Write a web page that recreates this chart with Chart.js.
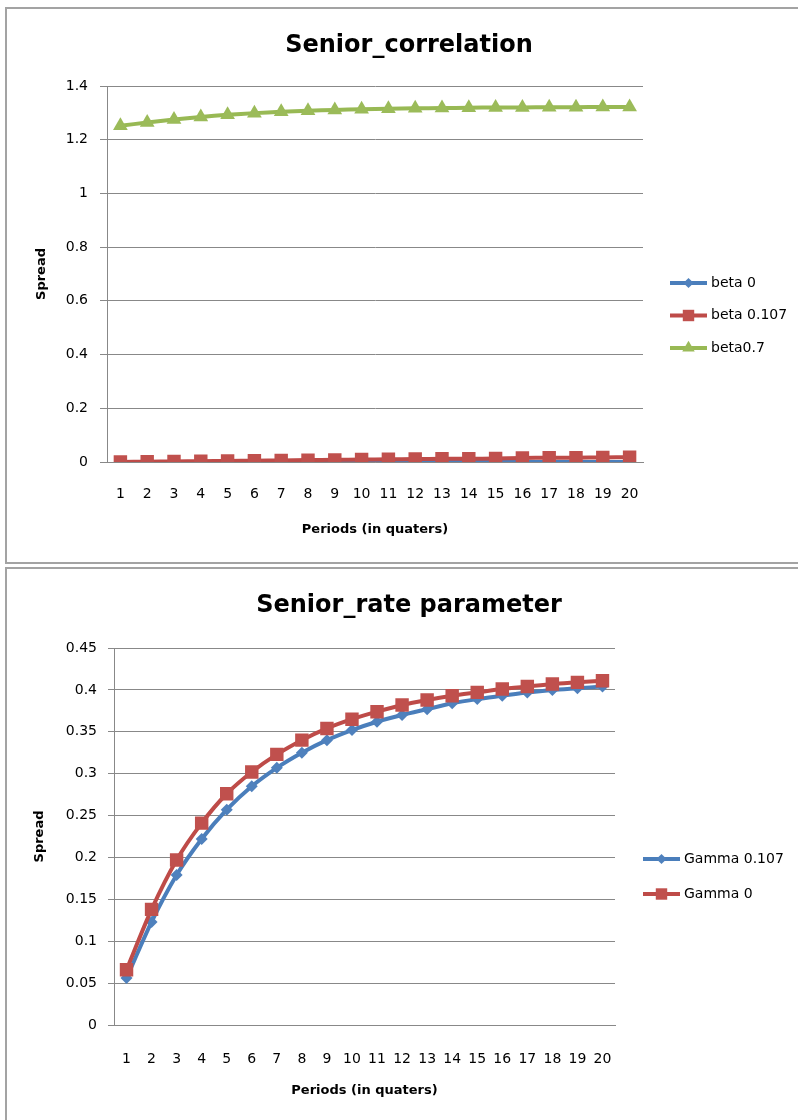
<!DOCTYPE html>
<html>
<head>
<meta charset="utf-8">
<script src="https://cdn.jsdelivr.net/npm/chart.js@4.4.1/dist/chart.umd.min.js"></script>
<style>
  html, body { margin: 0; padding: 0; background: #fff; width: 798px; height: 1120px; overflow: hidden; }
  .frame { position: absolute; border: 2px solid #a3a3a3; box-sizing: border-box; background: #fff; }
  .frame canvas { position: absolute; }
</style>
</head>
<body>
<div class="frame" style="left:5px; top:7px; width:820px; height:557px;">
  <canvas id="corr" width="791" height="552" style="left:0px; top:0px; width:791px; height:552px;"></canvas>
</div>
<div class="frame" style="left:5px; top:567px; width:820px; height:580px;">
  <canvas id="rate" width="791" height="550" style="left:0px; top:1px; width:791px; height:550px;"></canvas>
</div>
<script>
// Quarterly periods on the category axis
const periods = ['1','2','3','4','5','6','7','8','9','10','11','12','13','14','15','16','17','18','19','20'];

// Senior_correlation: spread per period for each beta
const beta0    = [0,0,0,0,0,0,0,0,0,0,0,0,0,0,0,0,0,0,0,0];
const beta0107 = [0.000,0.001,0.002,0.003,0.004,0.005,0.006,0.007,0.008,0.009,0.010,0.011,0.012,0.012,0.013,0.015,0.016,0.016,0.017,0.018];
const beta07   = [1.252,1.264,1.275,1.285,1.293,1.299,1.304,1.308,1.311,1.313,1.315,1.317,1.318,1.319,1.320,1.320,1.321,1.321,1.322,1.322];

// Senior_rate parameter: spread per period for each gamma
const gamma0107 = [0.056,0.123,0.179,0.222,0.257,0.285,0.307,0.325,0.340,0.352,0.362,0.370,0.377,0.384,0.389,0.393,0.397,0.400,0.402,0.404];
const gamma0    = [0.066,0.138,0.197,0.241,0.276,0.302,0.323,0.340,0.354,0.365,0.374,0.382,0.388,0.393,0.397,0.401,0.404,0.407,0.409,0.411];

const BLUE  = { line: '#4A7EBB', fill: '#4F81BD', style: 'rectRot',  r: 6 };
const RED   = { line: '#BE4B48', fill: '#C0504D', style: 'rect',     r: 9.5 };
const GREEN = { line: '#98B954', fill: '#9BBB59', style: 'triangle', r: 8.5 };

const GRID = '#888888';
const FONT = "'DejaVu Sans', sans-serif";

function series(label, data, look, order) {
  return {
    label, data, order,
    borderColor: look.line,
    backgroundColor: look.fill,
    borderWidth: 4,
    pointStyle: look.style,
    pointRadius: look.r,
    pointHoverRadius: look.r,
    pointBackgroundColor: look.fill,
    pointBorderColor: look.fill,
    pointBorderWidth: 0,
    tension: 0.25
  };
}

// Axis numbers without trailing zeros (1, 0.8, 0.45 ...)
function plainNumber(value) {
  return String(Number(value.toFixed(2)));
}

// Draws the chart heading and an Excel-style legend (line with marker, then text)
const decorations = {
  id: 'decorations',
  afterDraw(chart, args, opts) {
    const ctx = chart.ctx;
    ctx.save();
    ctx.fillStyle = '#000';
    ctx.font = 'bold 24px ' + FONT;
    ctx.textAlign = 'center';
    ctx.textBaseline = 'middle';
    ctx.fillText(opts.heading, opts.headingX, opts.headingY);

    ctx.font = '14px ' + FONT;
    ctx.textAlign = 'left';
    chart.data.datasets.forEach((ds, i) => {
      const y = opts.legendY + i * opts.legendGap;
      const x0 = opts.legendX, x1 = opts.legendX + 37;
      ctx.strokeStyle = ds.borderColor;
      ctx.lineWidth = 4;
      ctx.beginPath();
      ctx.moveTo(x0, y);
      ctx.lineTo(x1, y);
      ctx.stroke();
      ctx.fillStyle = ds.pointBackgroundColor;
      ctx.strokeStyle = ds.pointBackgroundColor;
      Chart.helpers.drawPoint(ctx, {
        pointStyle: ds.pointStyle, radius: ds.pointRadius * 0.85, borderWidth: 0, rotation: 0
      }, (x0 + x1) / 2, y);
      ctx.fillStyle = '#000';
      ctx.fillText(ds.label, x1 + 4, y);
    });
    ctx.restore();
  }
};

function build(canvasId, cfg) {
  return new Chart(document.getElementById(canvasId), {
    type: 'line',
    data: { labels: periods, datasets: cfg.datasets },
    options: {
      responsive: false,
      animation: false,
      events: [],
      layout: { padding: { left: 0, top: cfg.area.top, right: cfg.area.right, bottom: 0 } },
      plugins: {
        legend: { display: false },
        title: { display: false },
        tooltip: { enabled: false },
        decorations: cfg.deco
      },
      scales: {
        x: {
          type: 'category',
          offset: true,
          grid: { display: false },
          border: { display: true, color: GRID, width: 1 },
          ticks: { color: '#000', font: { family: FONT, size: 14 }, padding: cfg.xTickPad, maxRotation: 0, autoSkip: false },
          title: { display: true, text: 'Periods (in quaters)', color: '#000',
                   font: { family: FONT, size: 13, weight: 'bold' }, padding: { top: 0, bottom: cfg.xTitlePad } },
          afterFit(s) { s.height = cfg.area.xHeight; }
        },
        y: {
          min: 0, max: cfg.yMax,
          ticks: { stepSize: cfg.yStep, color: '#000', font: { family: FONT, size: 14 }, padding: cfg.yTickPad,
                   callback: plainNumber },
          grid: { color: GRID, lineWidth: 1, tickLength: cfg.tickLen, drawTicks: true },
          border: { display: true, color: GRID, width: 1 },
          title: { display: true, text: 'Spread', color: '#000',
                   font: { family: FONT, size: 13, weight: 'bold' }, padding: { top: cfg.yTitlePad, bottom: 0 } },
          afterFit(s) { s.width = cfg.area.yWidth; }
        }
      }
    },
    plugins: [decorations]
  });
}

build('corr', {
  datasets: [
    series('beta 0', beta0, BLUE, 2),
    series('beta 0.107', beta0107, RED, 1),
    series('beta0.7', beta07, GREEN, 0)
  ],
  area: { top: 77, right: 155, xHeight: 99, yWidth: 100 },
  yMax: 1.4, yStep: 0.2,
  tickLen: 7, yTickPad: 12, xTickPad: 16, xTitlePad: 24, yTitlePad: 27,
  deco: { heading: 'Senior_correlation', headingX: 402, headingY: 37,
          legendX: 663, legendY: 274, legendGap: 32.5 }
});

build('rate', {
  datasets: [
    series('Gamma 0.107', gamma0107, BLUE, 1),
    series('Gamma 0', gamma0, RED, 0)
  ],
  area: { top: 78, right: 183, xHeight: 95, yWidth: 107 },
  yMax: 0.45, yStep: 0.05,
  tickLen: 6, yTickPad: 11, xTickPad: 17.6, xTitlePad: 22, yTitlePad: 25,
  deco: { heading: 'Senior_rate parameter', headingX: 402, headingY: 36,
          legendX: 636, legendY: 289, legendGap: 35 }
});
</script>
</body>
</html>
